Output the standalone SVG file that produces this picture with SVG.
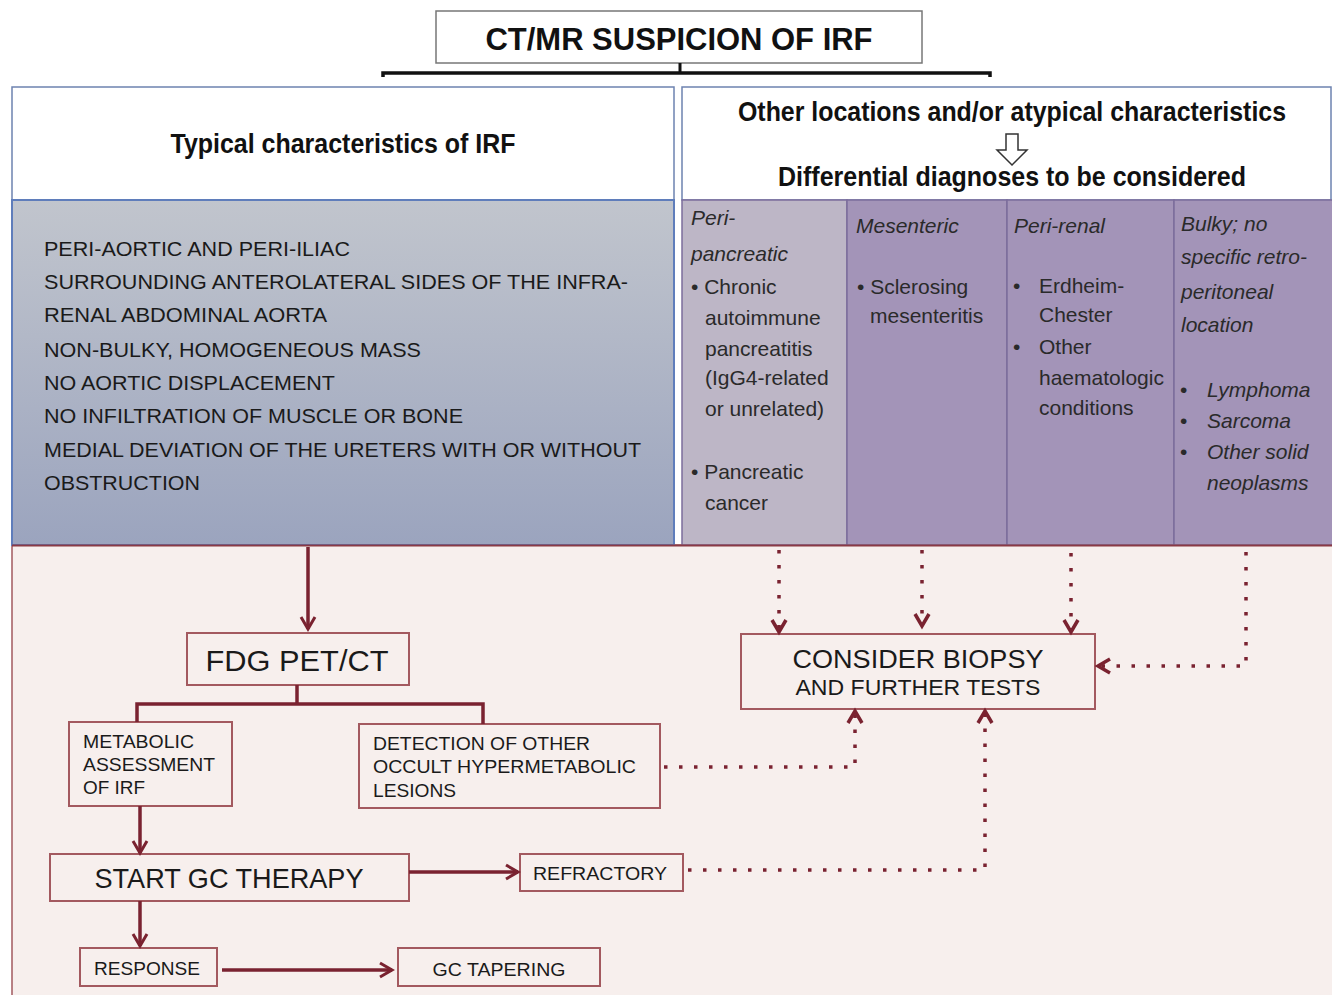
<svg xmlns="http://www.w3.org/2000/svg" width="1332" height="995" viewBox="0 0 1332 995">
<defs>
<linearGradient id="blueGrad" x1="0" y1="0" x2="0" y2="1">
<stop offset="0" stop-color="#c1c5cd"/>
<stop offset="1" stop-color="#9ba4be"/>
</linearGradient>
<marker id="arr" markerUnits="userSpaceOnUse" markerWidth="20" markerHeight="20" viewBox="0 0 20 20" refX="16" refY="10" orient="auto">
<path d="M4,3 L16,10 L4,17" fill="none" stroke="#7a2230" stroke-width="3"/>
</marker>
<marker id="arrd" markerUnits="userSpaceOnUse" markerWidth="22" markerHeight="22" viewBox="0 0 22 22" refX="17" refY="11" orient="auto">
<path d="M5,4 L17,11 L5,18" fill="none" stroke="#7a2230" stroke-width="3.5"/>
</marker>
</defs>
<style>
.hdr{font-family:"Liberation Sans Narrow","Liberation Sans",Arial,sans-serif;font-weight:bold;fill:#111;}
.narrow{font-family:"Liberation Sans Narrow","Liberation Sans",Arial,sans-serif;fill:#1a1a1a;}
.col{font-family:"Liberation Sans",Arial,sans-serif;font-size:21px;fill:#2a2a2a;}
.it{font-style:italic;}
.box{fill:#f7efed;stroke:#a3595f;stroke-width:2;}
.solid{fill:none;stroke:#7a2230;stroke-width:3.5;}
.dot{fill:none;stroke:#7a2230;stroke-width:3.5;stroke-dasharray:3.5 11.5;}
</style>
<rect x="0" y="0" width="1332" height="995" fill="#ffffff"/>

<g id="lower-region">
<rect x="12" y="545" width="1330" height="460" fill="#f7efed" stroke="#a3595f" stroke-width="1.5"/>
</g>

<g id="top">
<rect x="436" y="11" width="486" height="52" fill="#ffffff" stroke="#777" stroke-width="1.5"/>
<text class="hdr" x="679" y="50" font-size="31" text-anchor="middle" textLength="387" lengthAdjust="spacingAndGlyphs">CT/MR SUSPICION OF IRF</text>
</g>

<g id="typical-header">
<rect x="12" y="87" width="662" height="113" fill="#ffffff" stroke="#6d83b0" stroke-width="1.5"/>
<text class="hdr" x="343" y="153" font-size="28" text-anchor="middle" textLength="345" lengthAdjust="spacingAndGlyphs">Typical characteristics of IRF</text>
</g>

<g id="typical-box">
<rect x="12" y="200" width="662" height="345" fill="url(#blueGrad)" stroke="#5f7dbb" stroke-width="2"/>
<g class="narrow" font-size="21">
<text x="44" y="256" textLength="306" lengthAdjust="spacingAndGlyphs">PERI-AORTIC AND PERI-ILIAC</text>
<text x="44" y="289" textLength="584" lengthAdjust="spacingAndGlyphs">SURROUNDING ANTEROLATERAL SIDES OF THE INFRA-</text>
<text x="44" y="322" textLength="283" lengthAdjust="spacingAndGlyphs">RENAL ABDOMINAL AORTA</text>
<text x="44" y="357" textLength="377" lengthAdjust="spacingAndGlyphs">NON-BULKY, HOMOGENEOUS MASS</text>
<text x="44" y="390" textLength="291" lengthAdjust="spacingAndGlyphs">NO AORTIC DISPLACEMENT</text>
<text x="44" y="423" textLength="419" lengthAdjust="spacingAndGlyphs">NO INFILTRATION OF MUSCLE OR BONE</text>
<text x="44" y="457" textLength="597" lengthAdjust="spacingAndGlyphs">MEDIAL DEVIATION OF THE URETERS WITH OR WITHOUT</text>
<text x="44" y="490" textLength="156" lengthAdjust="spacingAndGlyphs">OBSTRUCTION</text>
</g>
</g>

<g id="atypical-header">
<rect x="682" y="87" width="649" height="113" fill="#ffffff" stroke="#6d83b0" stroke-width="1.5"/>
<text class="hdr" x="1012" y="121" font-size="28" text-anchor="middle" textLength="548" lengthAdjust="spacingAndGlyphs">Other locations and/or atypical characteristics</text>
<path d="M1006,134 L1018,134 L1018,150 L1027,150 L1012,165 L997,150 L1006,150 Z" fill="#ffffff" stroke="#333" stroke-width="1.5"/>
<text class="hdr" x="1012" y="186" font-size="28" text-anchor="middle" textLength="468" lengthAdjust="spacingAndGlyphs">Differential diagnoses to be considered</text>
</g>

<g id="col-peripancreatic">
<rect x="682" y="200" width="165" height="345" fill="#bdb6c6" stroke="#7c6d9c" stroke-width="1.5"/>
<g class="col">
<text class="it" x="691" y="225">Peri-</text>
<text class="it" x="691" y="261">pancreatic</text>
<text x="691" y="294">• Chronic</text>
<text x="705" y="325">autoimmune</text>
<text x="705" y="356">pancreatitis</text>
<text x="705" y="385">(IgG4-related</text>
<text x="705" y="416">or unrelated)</text>
<text x="691" y="479">• Pancreatic</text>
<text x="705" y="510">cancer</text>
</g>
</g>

<g id="col-mesenteric">
<rect x="847" y="200" width="160" height="345" fill="#a394b8" stroke="#7c6d9c" stroke-width="1.5"/>
<g class="col">
<text class="it" x="856" y="233">Mesenteric</text>
<text x="857" y="294">• Sclerosing</text>
<text x="870" y="323">mesenteritis</text>
</g>
</g>

<g id="col-perirenal">
<rect x="1007" y="200" width="167" height="345" fill="#a394b8" stroke="#7c6d9c" stroke-width="1.5"/>
<g class="col">
<text class="it" x="1014" y="233">Peri-renal</text>
<text x="1013" y="293">•</text>
<text x="1039" y="293">Erdheim-</text>
<text x="1039" y="322">Chester</text>
<text x="1013" y="354">•</text>
<text x="1039" y="354">Other</text>
<text x="1039" y="385">haematologic</text>
<text x="1039" y="415">conditions</text>
</g>
</g>

<g id="col-bulky">
<rect x="1174" y="200" width="168" height="345" fill="#a394b8" stroke="#7c6d9c" stroke-width="1.5"/>
<g class="col">
<text class="it" x="1181" y="231">Bulky; no</text>
<text class="it" x="1181" y="264">specific retro-</text>
<text class="it" x="1181" y="299">peritoneal</text>
<text class="it" x="1181" y="332">location</text>
<text x="1180" y="397">•</text>
<text class="it" x="1207" y="397">Lymphoma</text>
<text x="1180" y="428">•</text>
<text class="it" x="1207" y="428">Sarcoma</text>
<text x="1180" y="459">•</text>
<text class="it" x="1207" y="459">Other solid</text>
<text class="it" x="1207" y="490">neoplasms</text>
</g>
</g>
<line x1="12" y1="545.5" x2="1332" y2="545.5" stroke="#8a3a45" stroke-width="2"/>

<g id="fdg">
<rect class="box" x="187" y="633" width="222" height="52"/>
<text class="narrow" x="297" y="671" font-size="30" text-anchor="middle" textLength="183" lengthAdjust="spacingAndGlyphs">FDG PET/CT</text>
</g>

<g id="metabolic">
<rect class="box" x="69" y="722" width="163" height="84"/>
<g class="narrow" font-size="19">
<text x="83" y="748" textLength="111" lengthAdjust="spacingAndGlyphs">METABOLIC</text>
<text x="83" y="771" textLength="132" lengthAdjust="spacingAndGlyphs">ASSESSMENT</text>
<text x="83" y="794" textLength="62" lengthAdjust="spacingAndGlyphs">OF IRF</text>
</g>
</g>

<g id="detection">
<rect class="box" x="359" y="724" width="301" height="84"/>
<g class="narrow" font-size="19">
<text x="373" y="750" textLength="217" lengthAdjust="spacingAndGlyphs">DETECTION OF OTHER</text>
<text x="373" y="773" textLength="263" lengthAdjust="spacingAndGlyphs">OCCULT HYPERMETABOLIC</text>
<text x="373" y="797" textLength="83" lengthAdjust="spacingAndGlyphs">LESIONS</text>
</g>
</g>

<g id="start-gc">
<rect class="box" x="50" y="854" width="359" height="47"/>
<text class="narrow" x="229" y="888" font-size="28" text-anchor="middle" textLength="269" lengthAdjust="spacingAndGlyphs">START GC THERAPY</text>
</g>

<g id="refractory">
<rect class="box" x="520" y="854" width="163" height="37"/>
<text class="narrow" x="533" y="880" font-size="19" textLength="134" lengthAdjust="spacingAndGlyphs">REFRACTORY</text>
</g>

<g id="response">
<rect class="box" x="80" y="948" width="137" height="38"/>
<text class="narrow" x="94" y="975" font-size="19" textLength="106" lengthAdjust="spacingAndGlyphs">RESPONSE</text>
</g>

<g id="gc-tapering">
<rect class="box" x="398" y="948" width="202" height="38"/>
<text class="narrow" x="499" y="976" font-size="19" text-anchor="middle" textLength="133" lengthAdjust="spacingAndGlyphs">GC TAPERING</text>
</g>

<g id="consider-biopsy">
<rect class="box" x="741" y="634" width="354" height="75"/>
<text class="narrow" x="918" y="668" font-size="26" text-anchor="middle" textLength="251" lengthAdjust="spacingAndGlyphs">CONSIDER BIOPSY</text>
<text class="narrow" x="918" y="695" font-size="22" text-anchor="middle" textLength="245" lengthAdjust="spacingAndGlyphs">AND FURTHER TESTS</text>
</g>

<g id="connectors">
<line x1="680" y1="63" x2="680" y2="73" stroke="#111" stroke-width="3"/>
<path d="M383,77 L383,73 L990,73 L990,77" fill="none" stroke="#111" stroke-width="3.5"/>
<line class="solid" x1="308" y1="547" x2="308" y2="629" marker-end="url(#arr)"/>
<line class="solid" x1="297" y1="685" x2="297" y2="704"/>
<path class="solid" d="M137,722 L137,704 L483,704 L483,724" stroke-width="4"/>
<line class="solid" x1="140" y1="806" x2="140" y2="853" marker-end="url(#arr)"/>
<line class="solid" x1="409" y1="872" x2="518" y2="872" marker-end="url(#arr)"/>
<line class="solid" x1="140" y1="901" x2="140" y2="946" marker-end="url(#arr)"/>
<line class="solid" x1="222" y1="970" x2="392" y2="970" marker-end="url(#arr)"/>
<line class="dot" x1="779" y1="550" x2="779" y2="632" marker-end="url(#arrd)"/>
<line class="dot" x1="922" y1="550" x2="922" y2="626" marker-end="url(#arrd)"/>
<line class="dot" x1="1071" y1="553" x2="1071" y2="632" marker-end="url(#arrd)"/>
<path class="dot" d="M1246,552 L1246,666 L1098,666" marker-end="url(#arrd)"/>
<path class="dot" d="M664,767 L855,767 L855,711" marker-end="url(#arrd)"/>
<path class="dot" d="M688,870 L985,870 L985,711" marker-end="url(#arrd)"/>
</g>
</svg>
